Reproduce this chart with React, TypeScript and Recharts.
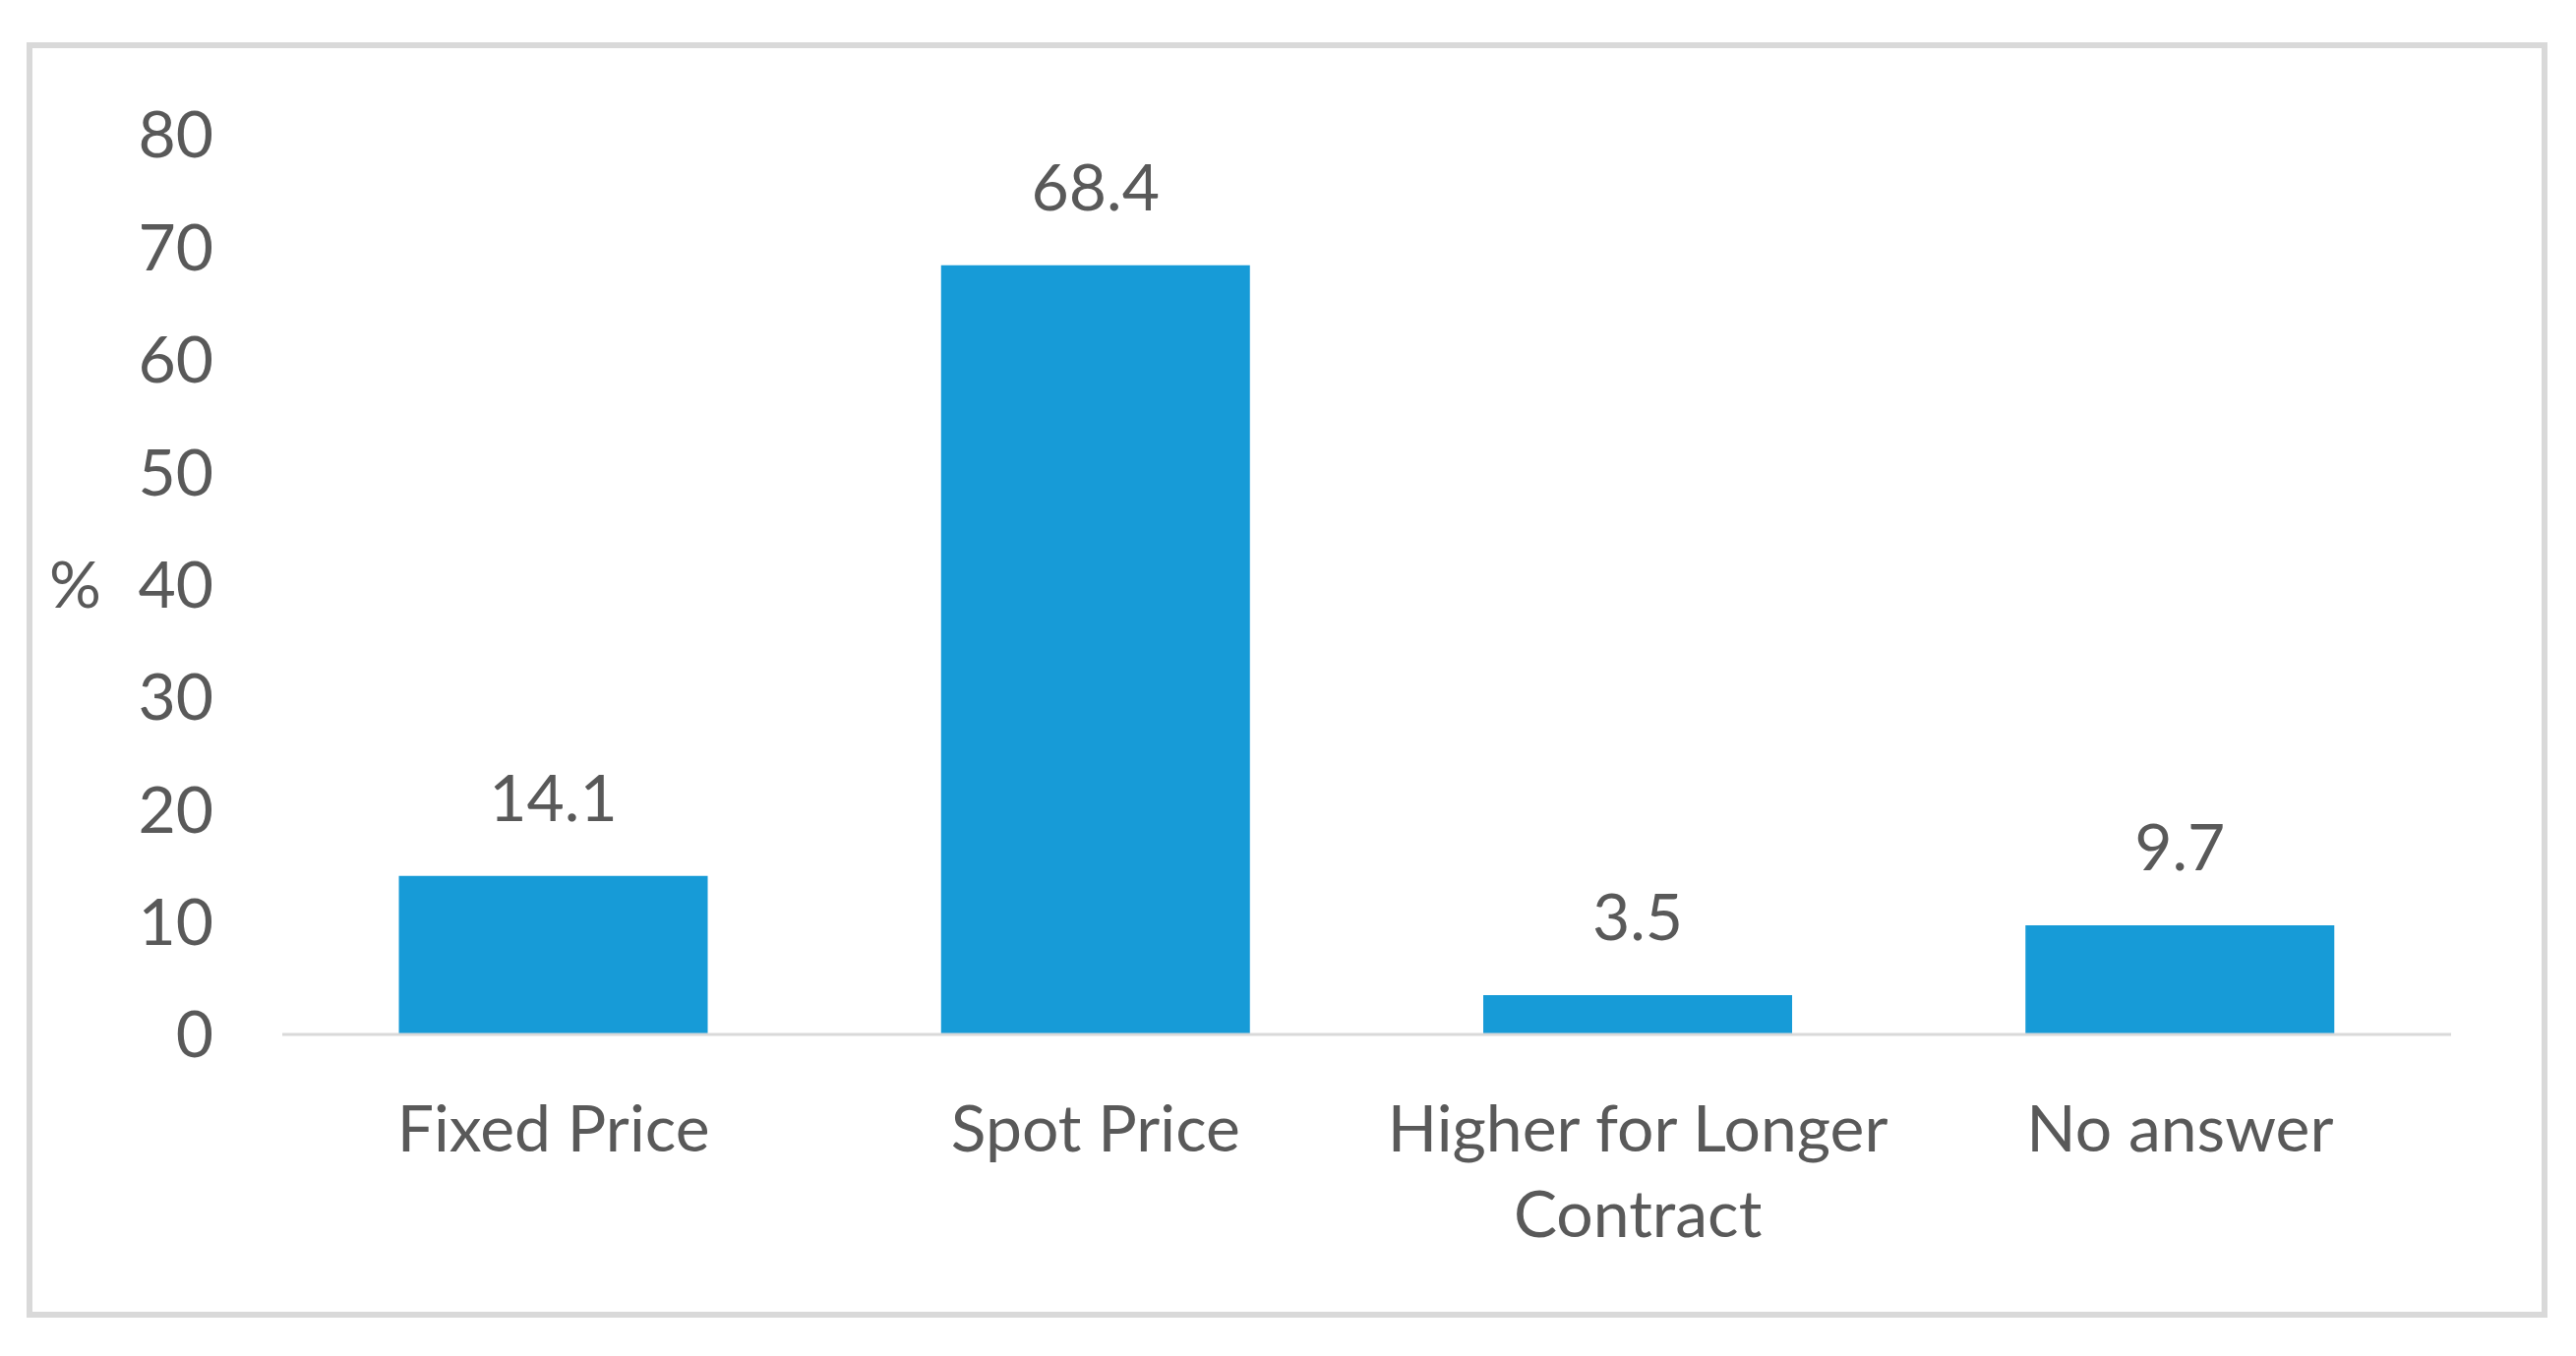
import { BarChart, Bar, XAxis, YAxis, LabelList } from 'recharts';

const categories = ['Fixed Price', 'Spot Price', 'Higher for Longer Contract', 'No answer'];
const shares = [14.1, 68.4, 3.5, 9.7];
const yTicks = [0, 10, 20, 30, 40, 50, 60, 70, 80];

const data = categories.map((name, i) => ({ name, value: shares[i] }));

const FONT = 'Lato, "Open Sans", sans-serif';
const GREY = '#595959';
const BLUE = '#179bd7';

// long labels break before the last word, as in the original
function CategoryTick(props: any) {
  const { x, y, payload } = props;
  const label: string = payload.value;
  let lines = [label];
  if (label.length > 18) {
    const cut = label.lastIndexOf(' ');
    lines = [label.slice(0, cut), label.slice(cut + 1)];
  }
  return (
    <text x={x} y={y + 70} textAnchor="middle" fill={GREY} fontSize={66} fontFamily={FONT}>
      {lines.map((ln, i) => (
        <tspan key={i} x={x} dy={i === 0 ? '0.71em' : 87}>
          {ln}
        </tspan>
      ))}
    </text>
  );
}

export default function App() {
  return (
    <div style={{ position: 'absolute', left: 0, top: 0, width: 2619, height: 1379, background: '#fff' }}>
      <div
        style={{
          position: 'absolute',
          left: 27,
          top: 43,
          width: 2563,
          height: 1297,
          boxSizing: 'border-box',
          border: '6px solid #d9d9d9',
        }}
      />
      <BarChart
        width={2619}
        height={1379}
        data={data}
        margin={{ top: 137, right: 127, bottom: 297, left: 50 }}
        barCategoryGap="21.5%"
        style={{ position: 'absolute', left: 0, top: 0 }}
      >
        <XAxis
          dataKey="name"
          height={30}
          axisLine={{ stroke: '#d9d9d9', strokeWidth: 3 }}
          tickLine={false}
          tickSize={0}
          tick={<CategoryTick />}
          interval={0}
        />
        <YAxis
          width={237}
          domain={[0, 80]}
          ticks={yTicks}
          axisLine={false}
          tickLine={false}
          tickSize={0}
          tickMargin={70}
          tick={{ fill: GREY, fontSize: 66, fontFamily: FONT }}
          label={{ value: '%', position: 'insideLeft', offset: 0, fill: GREY, fontSize: 66, fontFamily: FONT }}
        />
        <Bar dataKey="value" fill={BLUE} isAnimationActive={false}>
          <LabelList dataKey="value" position="top" offset={56} fill={GREY} fontSize={66} fontFamily={FONT} />
        </Bar>
      </BarChart>
    </div>
  );
}
